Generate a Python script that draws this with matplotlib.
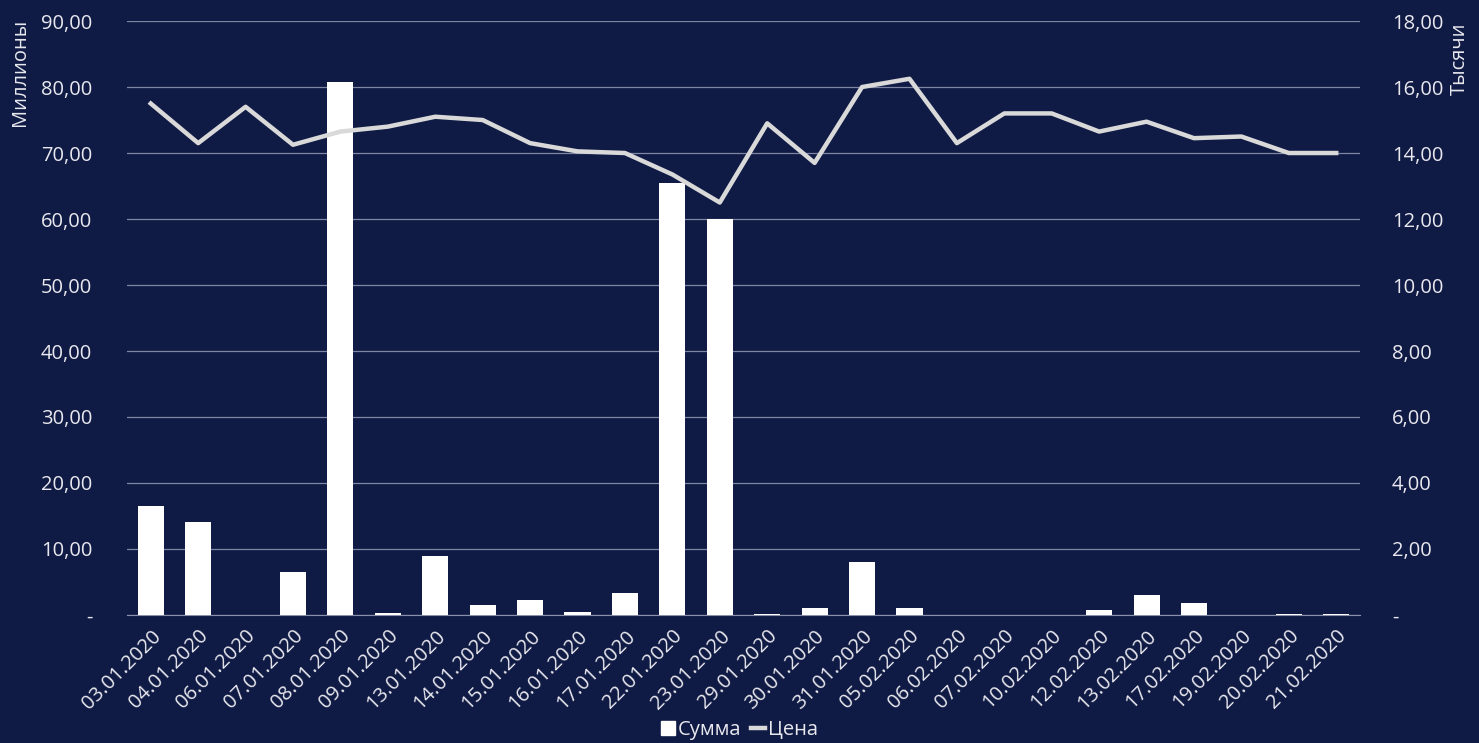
import numpy as np
import matplotlib.pyplot as plt
from matplotlib.ticker import FuncFormatter
from matplotlib.lines import Line2D
from matplotlib.patches import Patch

dates = ["03.01.2020", "04.01.2020", "06.01.2020", "07.01.2020", "08.01.2020",
         "09.01.2020", "13.01.2020", "14.01.2020", "15.01.2020", "16.01.2020",
         "17.01.2020", "22.01.2020", "23.01.2020", "29.01.2020", "30.01.2020",
         "31.01.2020", "05.02.2020", "06.02.2020", "07.02.2020", "10.02.2020",
         "12.02.2020", "13.02.2020", "17.02.2020", "19.02.2020", "20.02.2020",
         "21.02.2020"]
summa = [16.5, 14.1, 0.0, 6.5, 80.8, 0.3, 8.9, 1.5, 2.2, 0.4,
         3.3, 65.5, 60.0, 0.15, 1.1, 8.1, 1.0, 0.05, 0.0, 0.0,
         0.7, 3.0, 1.8, 0.05, 0.15, 0.1]
price = [15.5, 14.3, 15.4, 14.25, 14.65, 14.8, 15.1, 15.0, 14.3, 14.05,
         14.0, 13.35, 12.5, 14.9, 13.7, 16.0, 16.25, 14.3, 15.2, 15.2,
         14.65, 14.95, 14.45, 14.5, 14.0, 14.0]

BG = "#101b45"
TXT = "#e8e8ee"
FS = 14.5
plt.rcParams['font.family'] = ['Open Sans', 'DejaVu Sans']


def fmt(v, pos):
    if abs(v) < 1e-9:
        return "-"
    return f"{v:.2f}".replace(".", ",")


fig = plt.figure(figsize=(14.79, 7.43), dpi=100, facecolor=BG)
ax = fig.add_axes([0.0859, 0.1723, 0.8336, 0.7994], facecolor=BG)
ax2 = ax.twinx()

x = np.arange(len(dates))
ax.bar(x, summa, width=0.55, color="white", zorder=3)
ax2.plot(x, price, color="#d9d9d9", lw=3.2, solid_joinstyle="round", zorder=4)

ax.set_xlim(-0.5, len(dates) - 0.5)
ax.set_ylim(0, 90)
ax.set_yticks(np.arange(0, 91, 10))
ax2.set_ylim(0, 18)
ax2.set_yticks(np.arange(0, 19, 2))
ax.yaxis.set_major_formatter(FuncFormatter(fmt))
ax2.yaxis.set_major_formatter(FuncFormatter(fmt))

ax.grid(axis="y", color="#7f86a3", lw=0.9, zorder=0)
ax.set_axisbelow(True)
for a in (ax, ax2):
    for s in a.spines.values():
        s.set_visible(False)
    a.tick_params(length=0, colors=TXT, labelsize=FS)
ax.spines["bottom"].set_visible(True)
ax.spines["bottom"].set_color("#8a90aa")

ax.set_xticks(x)
ax.set_xticklabels(dates, rotation=45, ha="right", rotation_mode="anchor")
ax.tick_params(axis="x", pad=8)
ax.tick_params(axis="y", pad=25)
ax2.tick_params(axis="y", pad=23)

fig.text(0.007, 0.975, "Миллионы", rotation=90, color=TXT, fontsize=FS,
         ha="left", va="top")
fig.text(0.994, 0.97, "Тысячи", rotation=90, color=TXT, fontsize=FS,
         ha="right", va="top")

handles = [Patch(facecolor="white", edgecolor="white"),
           Line2D([0], [0], color="#d9d9d9", lw=3.2)]
fig.legend(handles, ["Сумма", "Цена"], loc="lower center",
           bbox_to_anchor=(0.5, -0.02), ncol=2, frameon=False,
           fontsize=FS, labelcolor=TXT, handlelength=0.7, handletextpad=0.15,
           columnspacing=0.5)

fig.savefig("out.png", dpi=100, facecolor=BG)
